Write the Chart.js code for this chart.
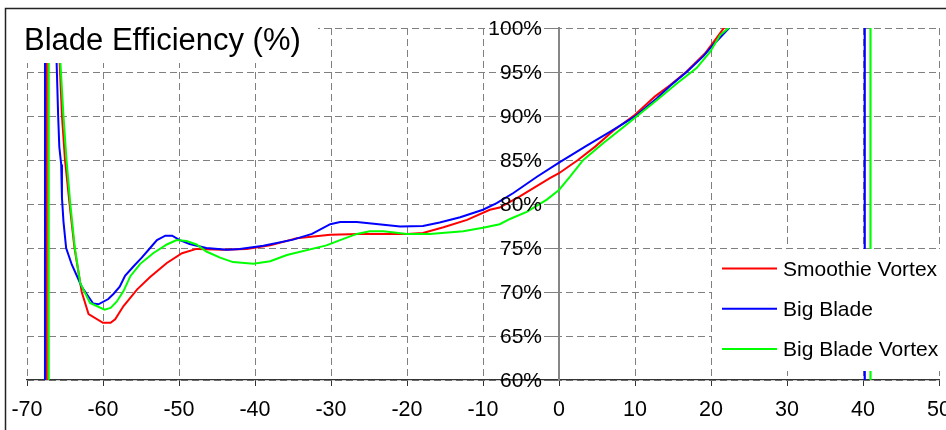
<!DOCTYPE html>
<html>
<head>
<meta charset="utf-8">
<script src="https://cdn.jsdelivr.net/npm/chart.js@4/dist/chart.umd.min.js"></script>
<style>
  html, body { margin: 0; padding: 0; background: #fff; }
  canvas { display: block; }
</style>
</head>
<body>
<canvas id="chart" width="946" height="430"></canvas>
<script>
// Blade efficiency (%) against angle, three blade designs.
const chartTitle = 'Blade Efficiency (%)';
const seriesNames = ['Smoothie Vortex', 'Big Blade', 'Big Blade Vortex'];
const seriesColors = ['#ff0000', '#0000ff', '#00ff00'];

const xTicks = [-70, -60, -50, -40, -30, -20, -10, 0, 10, 20, 30, 40, 50];
const yTicks = [60, 65, 70, 75, 80, 85, 90, 95, 100];

const smoothieX = [-70, -67.42, -67.39, -66.4, -65.7, -65.4, -65.0, -64.4, -63.75, -62.8, -61.9, -60.0, -59.0, -58.4, -57.3, -55.5, -53.8, -51.6, -49.6, -47.7, -44.2, -41.1, -38.0, -34.5, -30.1, -26.2, -20.0, -17.9, -15.2, -12.1, -9.1, -7.8, -5.1, -1.2, 0, 2.5, 4.8, 7.1, 10, 12.6, 14.6, 16.8, 19.2, 20.5, 21.7, 25, 30, 40, 50];
const smoothieY = [-250, -3000, 3000, 115, 96, 90, 85, 80, 75, 70, 67.5, 66.5, 66.5, 66.9, 68.4, 70.3, 71.7, 73.3, 74.4, 74.9, 74.8, 74.9, 75.3, 76.1, 76.5, 76.6, 76.6, 76.7, 77.35, 78.2, 79.35, 79.6, 80.9, 82.95, 83.5, 85.0, 86.55, 88.3, 90.15, 92.2, 93.5, 95.05, 97.1, 98.6, 100, 105, 125, 200, 600];

const bigBladeX = [-70, -67.65, -67.62, -66.3, -66.1, -65.9, -65.75, -65.5, -65.4, -65.2, -64.85, -64.1, -62.8, -61.3, -60.6, -59.3, -58.6, -57.8, -57.1, -56.0, -54.9, -53.8, -52.9, -51.8, -50.9, -49.9, -48.6, -46.4, -43.7, -42.0, -38.9, -35.0, -32.5, -30.1, -28.8, -26.6, -23.1, -20.9, -17.9, -15.7, -13.0, -10.0, -8.2, -6.0, -2.9, 0, 3.6, 6.7, 10, 12.85, 14.6, 16.8, 19.0, 20.3, 22.4, 25, 30, 35, 40.2, 40.24, 45, 50];
const bigBladeY = [-250, -3000, 3000, 112, 96, 90, 86.5, 84.5, 80.7, 78, 75, 73.1, 70.6, 68.7, 68.6, 69.2, 69.8, 70.6, 71.85, 72.9, 73.9, 75.0, 75.9, 76.4, 76.4, 75.9, 75.45, 75.0, 74.8, 74.9, 75.25, 75.95, 76.6, 77.7, 77.95, 77.95, 77.65, 77.45, 77.5, 77.9, 78.5, 79.35, 80.1, 81.25, 83.1, 84.7, 86.6, 88.2, 89.95, 92.0, 93.4, 95.0, 96.8, 98.1, 100, 104, 130, 220, 3000, -3000, -300, -120];

const vortexX = [-70, -67.17, -67.14, -66.0, -65.6, -65.2, -64.8, -64.3, -63.7, -63.0, -61.7, -59.8, -59.0, -58.2, -57.3, -56.4, -55.1, -53.4, -51.6, -50.3, -49.0, -47.7, -46.4, -44.6, -42.9, -40.2, -38.0, -35.8, -30.6, -28.8, -26.6, -24.9, -23.1, -20.0, -17.0, -12.6, -10.0, -7.8, -6.45, -4.25, -1.6, 0, 1.45, 3.2, 5.8, 8.0, 10, 12.85, 15.5, 18.1, 19.9, 21.2, 22.3, 25, 30, 35, 40.95, 41.0, 45, 50];
const vortexY = [-250, -3000, 3000, 120, 96, 90, 85, 80, 75, 71.0, 68.75, 68.0, 68.2, 68.9, 70.1, 71.8, 73.2, 74.4, 75.4, 75.9, 75.8, 75.4, 74.6, 73.9, 73.4, 73.2, 73.5, 74.2, 75.3, 75.9, 76.6, 76.9, 76.9, 76.6, 76.6, 76.9, 77.3, 77.7, 78.3, 79.1, 80.5, 81.6, 83.1, 85.0, 86.9, 88.4, 89.8, 91.8, 93.7, 95.45, 97.3, 99.2, 100, 104, 130, 220, 3000, -3000, -300, -120];

const FONT = '"Liberation Sans", Arial, sans-serif';

function toPoints(xs, ys) {
  return xs.map((x, i) => ({ x: x, y: ys[i] }));
}

// Percent labels beside the centred value axis, heading panel,
// legend panel and outer frame.
const overlay = {
  id: 'overlay',
  afterDraw(chart) {
    const ctx = chart.ctx;
    const xs = chart.scales.x;
    const ys = chart.scales.y;
    ctx.save();

    const axisX = xs.getPixelForValue(0);
    ctx.fillStyle = '#000000';
    ctx.font = '21px ' + FONT;
    ctx.textAlign = 'right';
    ctx.textBaseline = 'middle';
    ys.ticks.forEach(t => {
      ctx.fillText(t.value + '%', axisX - 17, ys.getPixelForValue(t.value) + 1);
    });

    ctx.fillStyle = '#ffffff';
    ctx.fillRect(7, 10, 311, 53);
    ctx.fillStyle = '#000000';
    ctx.font = '31px ' + FONT;
    ctx.textAlign = 'left';
    ctx.textBaseline = 'alphabetic';
    ctx.fillText(chartTitle, 24, 50);

    ctx.fillStyle = '#ffffff';
    ctx.fillRect(712, 249, 234, 122);
    ctx.font = '21px ' + FONT;
    chart.data.datasets.forEach((ds, i) => {
      const y = 268.5 + i * 40.3;
      ctx.strokeStyle = ds.borderColor;
      ctx.lineWidth = 2;
      ctx.beginPath();
      ctx.moveTo(722, y);
      ctx.lineTo(777, y);
      ctx.stroke();
      ctx.fillStyle = '#000000';
      ctx.fillText(ds.label, 783, y + 7);
    });

    ctx.strokeStyle = '#222222';
    ctx.lineWidth = 1.5;
    ctx.beginPath();
    ctx.moveTo(5.5, 430);
    ctx.lineTo(5.5, 8.5);
    ctx.lineTo(946, 8.5);
    ctx.stroke();

    ctx.restore();
  }
};

const seriesX = [smoothieX, bigBladeX, vortexX];
const seriesY = [smoothieY, bigBladeY, vortexY];

new Chart(document.getElementById('chart'), {
  type: 'line',
  data: {
    datasets: seriesNames.map((name, i) => ({
      label: name,
      data: toPoints(seriesX[i], seriesY[i]),
      borderColor: seriesColors[i],
      backgroundColor: seriesColors[i],
      borderWidth: 2,
      pointRadius: 0,
      tension: 0,
      fill: false,
      order: seriesNames.length - 1 - i
    }))
  },
  options: {
    responsive: false,
    animation: false,
    events: [],
    layout: { padding: { left: 27, right: 7, top: 28, bottom: 0 } },
    plugins: {
      legend: { display: false },
      title: { display: false },
      tooltip: { enabled: false }
    },
    scales: {
      x: {
        type: 'linear',
        position: 'bottom',
        min: -70,
        max: 50,
        afterBuildTicks(scale) {
          scale.ticks = xTicks.map(v => ({ value: v }));
        },
        afterFit(scale) {
          scale.height = 50;
          scale.paddingLeft = 0;
          scale.paddingRight = 0;
        },
        ticks: {
          autoSkip: false,
          maxRotation: 0,
          minRotation: 0,
          color: '#000000',
          padding: 11,
          font: { family: FONT, size: 21.5 }
        },
        grid: {
          color: '#808080',
          lineWidth: 1,
          tickLength: 6,
          tickColor: '#333333',
          tickWidth: 1
        },
        border: { color: '#333333', width: 1.3, dash: [7, 4] }
      },
      y: {
        type: 'linear',
        position: { x: 0 },
        min: 60,
        max: 100,
        afterBuildTicks(scale) {
          scale.ticks = yTicks.map(v => ({ value: v }));
        },
        ticks: { display: false },
        grid: {
          color: '#808080',
          lineWidth: 1,
          tickLength: 8,
          tickColor: '#808080',
          tickWidth: 1
        },
        border: { color: '#868686', width: 2, dash: [7, 4] }
      }
    }
  },
  plugins: [overlay]
});
</script>
</body>
</html>
